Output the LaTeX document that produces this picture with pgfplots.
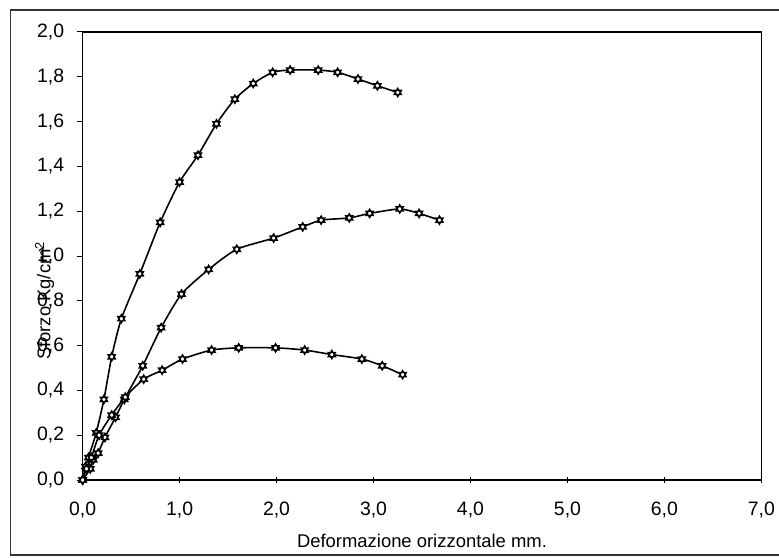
\documentclass[border=0pt]{standalone}
\usepackage{pgfplots}
\pgfplotsset{compat=1.18}
\usepackage{fontspec}
\setmainfont{Liberation Sans}
\pgfdeclareplotmark{hexstar}{%
  \pgfpathmoveto{\pgfqpointpolar{90}{\pgfplotmarksize}}%
  \pgfpathlineto{\pgfqpointpolar{210}{\pgfplotmarksize}}%
  \pgfpathlineto{\pgfqpointpolar{330}{\pgfplotmarksize}}%
  \pgfpathclose
  \pgfpathmoveto{\pgfqpointpolar{270}{\pgfplotmarksize}}%
  \pgfpathlineto{\pgfqpointpolar{30}{\pgfplotmarksize}}%
  \pgfpathlineto{\pgfqpointpolar{150}{\pgfplotmarksize}}%
  \pgfpathclose
  \pgfusepathqfillstroke
}
\begin{document}
\begin{tikzpicture}
\useasboundingbox (-82.6bp,-78bp) rectangle (696.4bp,480bp);
\draw[line width=1.2pt, black!80] (697bp,470bp) -- (-72bp,470bp) -- (-72bp,-75bp) -- (697bp,-75bp);
\begin{axis}[
  at={(0,0)}, anchor=south west,
  scale only axis, width=678.8bp, height=448bp,
  xmin=0, xmax=7, ymin=0, ymax=2,
  xtick={0,1,2,3,4,5,6,7},
  ytick={0,0.2,0.4,0.6,0.8,1.0,1.2,1.4,1.6,1.8,2.0},
  tick pos=left,
  xtick align=center, ytick align=outside,
  major tick length=6bp,
  every tick/.style={black, line width=1pt},
  axis line style={line width=1.4pt},
  /pgf/number format/.cd, fixed, fixed zerofill, precision=1, use comma, assume math mode=true,
  /pgfplots/.cd,
  tick label style={font=\fontsize{19.5}{21}\selectfont},
  xticklabel style={yshift=-15bp},
  yticklabel style={xshift=-9bp},
  xlabel={Deformazione orizzontale mm.},
  ylabel={Sforzo Kg/cm\textsuperscript{2}},
  label style={font=\fontsize{18.5}{21}\selectfont},
  xlabel style={at={(axis description cs:0.5,-0.136)}, anchor=center},
  ylabel style={at={(axis description cs:-0.056,0.40)}, anchor=center},
  curve/.style={black, line width=1.6pt, smooth, tension=0.4,
     mark=hexstar, mark size=4.3bp,
     mark options={solid, fill=white, draw=black, line width=1.2pt}},
]
\addplot[curve] coordinates {
(0,0) (0.03,0.06) (0.06,0.10) (0.14,0.21) (0.22,0.36) (0.30,0.55) (0.40,0.72)
(0.59,0.92) (0.80,1.15) (1.00,1.33) (1.19,1.45) (1.38,1.59) (1.57,1.70) (1.76,1.77)
(1.96,1.82) (2.14,1.83) (2.43,1.83) (2.63,1.82) (2.84,1.79) (3.04,1.76) (3.25,1.73)
};
\addplot[curve] coordinates {
(0,0) (0.08,0.05) (0.11,0.09) (0.16,0.12) (0.23,0.19) (0.34,0.28) (0.43,0.36)
(0.62,0.51) (0.81,0.68) (1.02,0.83) (1.30,0.94) (1.59,1.03) (1.97,1.08) (2.27,1.13)
(2.46,1.16) (2.75,1.17) (2.96,1.19) (3.27,1.21) (3.47,1.19) (3.68,1.16)
};
\addplot[curve] coordinates {
(0,0) (0.04,0.05) (0.09,0.10) (0.17,0.20) (0.30,0.29) (0.44,0.37) (0.63,0.45)
(0.82,0.49) (1.03,0.54) (1.33,0.58) (1.61,0.59) (1.99,0.59) (2.29,0.58) (2.57,0.56)
(2.88,0.54) (3.09,0.51) (3.30,0.47)
};
\end{axis}
\end{tikzpicture}
\end{document}
